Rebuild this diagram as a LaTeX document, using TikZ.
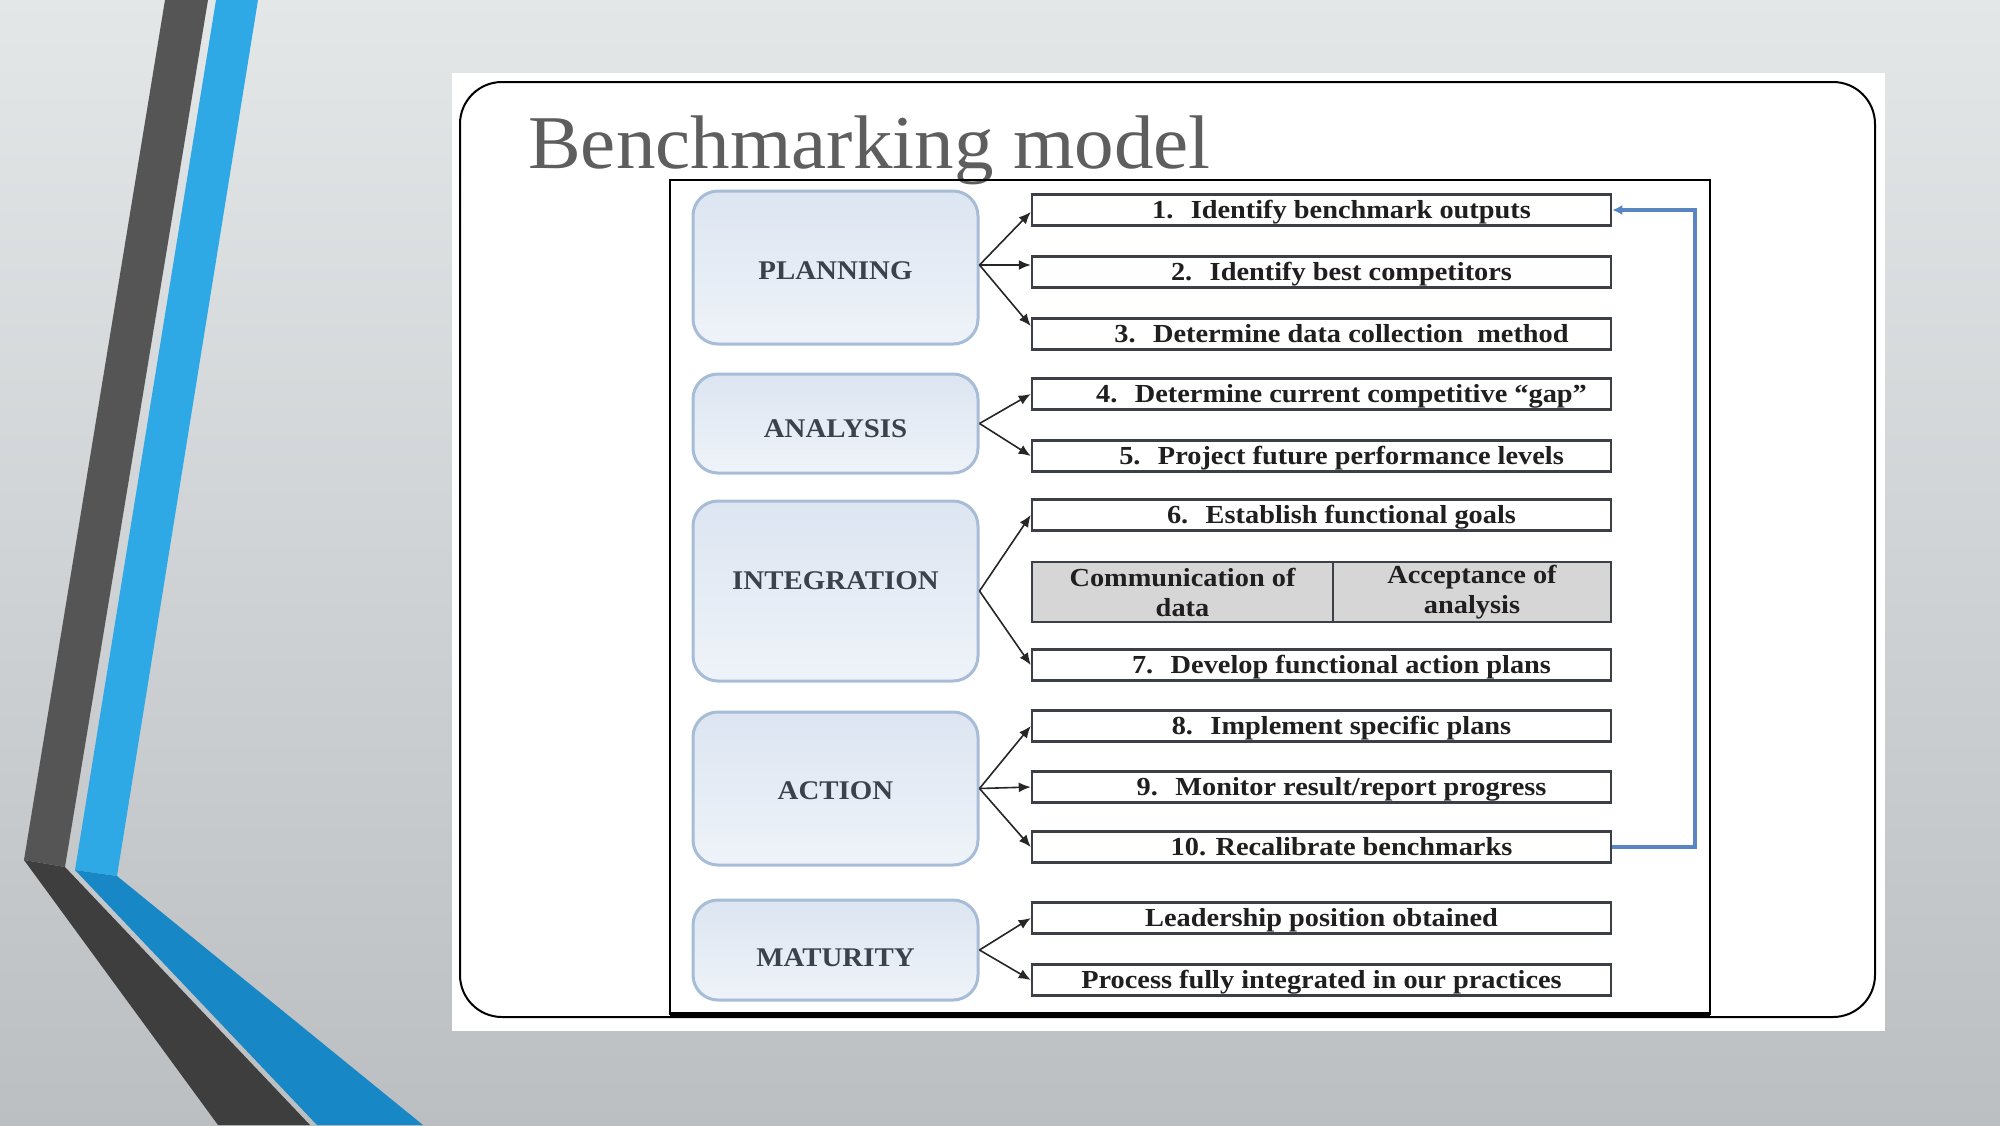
\documentclass[tikz,border=0pt]{standalone}
\usepackage{fontspec}
\usepackage{graphicx}
\setmainfont{Liberation Serif}
\usetikzlibrary{arrows.meta}
\definecolor{bgtop}{HTML}{E4E7E8}
\definecolor{bgbot}{HTML}{BCBFC2}
\definecolor{darkstripe}{HTML}{555555}
\definecolor{darkstripelow}{HTML}{3E3E3E}
\definecolor{bluestripe}{HTML}{2FA9E6}
\definecolor{bluestripelow}{HTML}{1787C6}
\definecolor{titlegray}{HTML}{5E5E5E}
\definecolor{lboxborder}{HTML}{A7BCD6}
\definecolor{lboxtop}{HTML}{DCE5F1}
\definecolor{lboxbot}{HTML}{EFF3F9}
\definecolor{ltext}{HTML}{3A424C}
\definecolor{rborder}{HTML}{3C4046}
\definecolor{cellgray}{HTML}{D6D6D6}
\definecolor{fbblue}{HTML}{5A85C3}
\newcommand{\rs}[1]{\scalebox{1.09}[1]{#1}}
\newcommand{\ls}[2]{\raisebox{#1}{\scalebox{1.07}[1]{#2}}}
\begin{document}
\begin{tikzpicture}[x=1pt,y=-1pt,
  lbox/.style={draw=lboxborder, line width=3pt, rounded corners=25pt,
    top color=lboxtop, bottom color=lboxbot, minimum width=285pt,
    text=ltext, font=\fontsize{27}{30}\selectfont\bfseries, inner sep=0pt,
    text height=18pt, text depth=0pt},
  rbox/.style={draw=rborder, line width=2.5pt, fill=white,
    minimum width=579pt, minimum height=31pt, inner sep=0pt,
    text height=17pt, text depth=0pt,
    text=black!88, font=\fontsize{26}{30}\selectfont\bfseries},
  cellbox/.style={draw=rborder, line width=2.5pt, fill=cellgray,
    minimum height=60pt, inner sep=0pt, align=center,
    text=black!88, font=\fontsize{26}{30}\selectfont\bfseries},
  arr/.style={draw=black!85, line width=1.6pt, -{Latex[length=12pt,width=10pt]}},
  fbline/.style={draw=fbblue, line width=3.5pt, -{Latex[length=10pt,width=10pt]}}
]
\useasboundingbox (0,0) rectangle (2000,1125);
% background
\shade[top color=bgtop, bottom color=bgbot] (0,0) rectangle (2000,1125);
% stripes
\fill[darkstripe] (165,0) -- (208,0) -- (65,867) -- (24,860) -- cycle;
\fill[darkstripelow] (24,860) -- (65,867) -- (310,1125) -- (218,1125) -- cycle;
\fill[bluestripe] (216,0) -- (258,0) -- (117,876) -- (75,870) -- cycle;
\fill[bluestripelow] (75,870) -- (117,876) -- (423,1125) -- (317,1125) -- cycle;
% white panel
\fill[white] (452,73) rectangle (1885,1031);
\draw[line width=2pt, rounded corners=42pt] (460,82) rectangle (1875,1017);
% title
\node[anchor=base west, inner sep=0pt, text=titlegray, font=\fontsize{76}{80}\selectfont]
  (title) at (528,168) {\scalebox{1.04}[1]{Benchmarking model}};
% inner frame
\draw[line width=2pt] (670,180) rectangle (1710,1014);
\draw[line width=4pt] (670,1014) -- (1710,1014);
% left boxes
\node[lbox, minimum height=153pt] (plan) at (835.5,267.5) {\ls{-3pt}{PLANNING}};
\node[lbox, minimum height=99pt]  (anal) at (835.5,423.5) {\ls{-5pt}{ANALYSIS}};
\node[lbox, minimum height=180pt] (integ) at (835.5,591) {\ls{11pt}{INTEGRATION}};
\node[lbox, minimum height=153pt] (act) at (835.5,788.5) {\ls{-2pt}{ACTION}};
\node[lbox, minimum height=100pt] (mat) at (835.5,950) {\ls{-7pt}{MATURITY}};
% right boxes
\node[rbox] (b1) at (1321.5,210) {\hspace*{40pt}\rs{1.\hspace{16pt}Identify benchmark outputs}};
\node[rbox] (b2) at (1321.5,272) {\hspace*{40pt}\rs{2.\hspace{16pt}Identify best competitors}};
\node[rbox] (b3) at (1321.5,334) {\hspace*{40pt}\rs{3.\hspace{16pt}Determine data collection\ \ method}};
\node[rbox] (b4) at (1321.5,394) {\hspace*{40pt}\rs{4.\hspace{16pt}Determine current competitive ``gap''}};
\node[rbox] (b5) at (1321.5,456) {\hspace*{40pt}\rs{5.\hspace{16pt}Project future performance levels}};
\node[rbox] (b6) at (1321.5,515) {\hspace*{40pt}\rs{6.\hspace{16pt}Establish functional goals}};
\node[cellbox, minimum width=301pt] (comm) at (1182.5,592) {\rs{Communication of}\\\rs{data}};
\node[cellbox, minimum width=278pt] (acc) at (1472,592) {\rs{Acceptance of}\\\rs{analysis}};
\node[rbox] (b7) at (1321.5,665) {\hspace*{40pt}\rs{7.\hspace{16pt}Develop functional action plans}};
\node[rbox] (b8) at (1321.5,726) {\hspace*{40pt}\rs{8.\hspace{16pt}Implement specific plans}};
\node[rbox] (b9) at (1321.5,787) {\hspace*{40pt}\rs{9.\hspace{16pt}Monitor result/report progress}};
\node[rbox] (b10) at (1321.5,847) {\hspace*{40pt}\rs{10. Recalibrate benchmarks}};
\node[rbox] (b11) at (1321.5,918) {\rs{Leadership position obtained}};
\node[rbox] (b12) at (1321.5,980) {\rs{Process fully integrated in our practices}};
% arrows
\coordinate (po) at ([yshift=2.5pt]plan.east);
\draw[arr] (po) -- ([yshift=-2pt]b1.west);
\draw[arr] (po) -- (b2.west |- po);
\draw[arr] (po) -- ([yshift=8pt]b3.west);
\draw[arr] (anal.east) -- (b4.west);
\draw[arr] (anal.east) -- (b5.west);
\draw[arr] (integ.east) -- (b6.west);
\draw[arr] (integ.east) -- (b7.west);
\draw[arr] (act.east) -- (b8.west);
\draw[arr] (act.east) -- (b9.west);
\draw[arr] (act.east) -- (b10.west);
\draw[arr] (mat.east) -- (b11.west);
\draw[arr] (mat.east) -- (b12.west);
% feedback loop
\coordinate (fbx) at (1695,500);
\draw[fbline] (b10.east) -- (b10.east -| fbx) |- (b1.east);
\end{tikzpicture}
\end{document}
